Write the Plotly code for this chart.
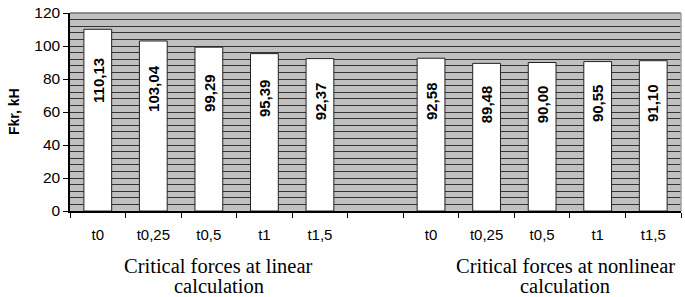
import plotly.graph_objects as go

# Data
labels_linear = ["t0", "t0,25", "t0,5", "t1", "t1,5"]
values_linear = [110.13, 103.04, 99.29, 95.39, 92.37]
labels_nonlinear = ["t0", "t0,25", "t0,5", "t1", "t1,5"]
values_nonlinear = [92.58, 89.48, 90.00, 90.55, 91.10]
group_titles = [["Critical forces at linear", "calculation"],
                ["Critical forces at nonlinear", "calculation"]]
y_ticks = [0, 20, 40, 60, 80, 100, 120]

# Slot positions: first group, one empty slot, second group
n1 = len(values_linear)
pos_linear = list(range(n1))
pos_nonlinear = [n1 + 1 + i for i in range(len(values_nonlinear))]
positions = pos_linear + pos_nonlinear
values = values_linear + values_nonlinear
labels = labels_linear + labels_nonlinear
n_slots = pos_nonlinear[-1] + 1
boundaries = [i - 0.5 for i in range(n_slots + 1)]

fmt = lambda v: f"{v:.2f}".replace(".", ",")

fig = go.Figure()
fig.add_trace(go.Bar(
    x=positions, y=values, width=0.5,
    marker=dict(color="white", line=dict(color="#222222", width=1)),
    hoverinfo="skip", showlegend=False,
))

ann = []
for p, v in zip(positions, values):
    ann.append(dict(x=p, y=v * 0.72, xref="x", yref="y", text=f"<b>{fmt(v)}</b>",
                    textangle=-90, showarrow=False,
                    font=dict(family="Liberation Sans, Arial", size=15, color="black")))

# group titles
centers = [2.18, 8.42]
for c, lines in zip(centers, group_titles):
    ann.append(dict(x=c, y=-0.278, xref="x", yref="paper", text=lines[0], showarrow=False,
                    yanchor="middle", font=dict(family="Liberation Serif, Times New Roman", size=20.5, color="black")))
    ann.append(dict(x=c, y=-0.378, xref="x", yref="paper", text=lines[1], showarrow=False,
                    yanchor="middle", font=dict(family="Liberation Serif, Times New Roman", size=20.5, color="black")))

# y title
ann.append(dict(x=-0.0916, y=0.5, xref="paper", yref="paper", text="<b>Fkr, kH</b>",
                textangle=-90, showarrow=False, xanchor="center", yanchor="middle",
                font=dict(family="Liberation Sans, Arial", size=14, color="black")))

fig.update_layout(
    width=685, height=297,
    margin=dict(l=70, r=4, t=13, b=86),
    paper_bgcolor="white", plot_bgcolor="#C0C0C0",
    bargap=0.5,
    annotations=ann,
    shapes=[
        dict(type="line", xref="paper", yref="paper", x0=0, x1=1, y0=1, y1=1,
             line=dict(color="#707070", width=1.5), layer="above"),
        dict(type="line", xref="paper", yref="paper", x0=1, x1=1, y0=0, y1=1,
             line=dict(color="#a0a0a0", width=1.5), layer="above"),
    ],
)
fig.update_xaxes(
    automargin=False,
    range=[-0.5, n_slots - 0.5],
    tickmode="array", tickvals=positions, ticktext=labels,
    ticks="outside", ticklen=9, tickcolor="rgba(0,0,0,0)",
    showgrid=False, zeroline=False,
    showline=True, linecolor="black", linewidth=1.5,
    tickfont=dict(family="Liberation Sans, Arial", size=15, color="black"),
    minor=dict(tickmode="array", tickvals=boundaries, ticks="outside", ticklen=5,
               tickcolor="black", tickwidth=1, showgrid=False),
)
fig.update_yaxes(
    automargin=False,
    range=[0, 120], tickmode="array", tickvals=y_ticks,
    ticks="outside", ticklen=5, tickcolor="black",
    showgrid=True, gridcolor="#333333", gridwidth=1,
    zeroline=False, showline=True, linecolor="black", linewidth=1.5,
    tickfont=dict(family="Liberation Sans, Arial", size=15.5, color="black"),
    minor=dict(dtick=4, tick0=0, showgrid=True, gridcolor="#333333", gridwidth=1, ticks=""),
)

fig.write_html("out.html", config={"displayModeBar": False},
               post_script="document.body.style.margin='0';document.body.style.overflow='hidden';")
